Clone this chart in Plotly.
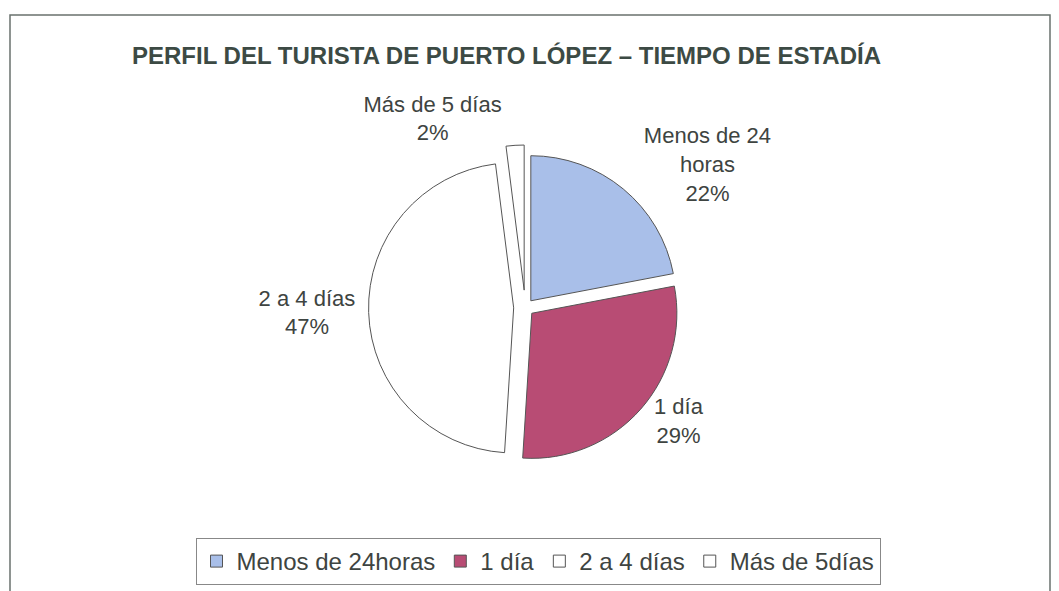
import plotly.graph_objects as go

categories = ["Menos de 24horas", "1 día", "2 a 4 días", "Más de 5días"]
slice_labels = ["Menos de 24<br>horas", "1 día", "2 a 4 días", "Más de 5 días"]
values = [22, 29, 47, 2]
colors = ["#a9bfe9", "#b84c74", "#ffffff", "#ffffff"]
pulls = [0.06, 0.06, 0.08, 0.12]

W, H = 1059, 591
FONT = "Liberation Sans, Arial, sans-serif"
TXT = "#3e4441"

fig = go.Figure(go.Pie(
    labels=categories,
    values=values,
    text=slice_labels,
    texttemplate="%{text}<br>%{percent:.0%}",
    textposition="outside",
    textfont=dict(family=FONT, size=22, color=TXT),
    marker=dict(colors=colors, line=dict(color="#555555", width=1)),
    pull=pulls,
    sort=False,
    direction="clockwise",
    rotation=0,
    domain=dict(x=[0.196, 0.796], y=[1 - 470/H, 1 - 145/H]),
    automargin=False,
))

fig.update_layout(
    width=W, height=H,
    paper_bgcolor="white",
    margin=dict(l=0, r=0, t=0, b=0),
    font=dict(family=FONT, color=TXT),
    showlegend=True,
    legend=dict(
        orientation="h",
        x=538/W, xanchor="center",
        y=1 - 585/H, yanchor="bottom",
        font=dict(size=24, color=TXT),
        bordercolor="#888888", borderwidth=1,
        bgcolor="white",
        itemwidth=30,
    ),
    annotations=[dict(
        text="<b>PERFIL DEL TURISTA DE PUERTO LÓPEZ – TIEMPO DE ESTADÍA</b>",
        x=506/W, y=1 - 55/H, xref="paper", yref="paper",
        xanchor="center", yanchor="middle", showarrow=False,
        font=dict(size=24, color="#3c4a44", family=FONT),
    )],
    shapes=[dict(
        type="rect", xref="paper", yref="paper",
        x0=10/W, x1=1050/W, y0=-0.02, y1=1 - 15/H,
        line=dict(color="#6a716e", width=1.5),
    )],
)

fig.write_html("out.html",
               config={"displayModeBar": False},
               post_script="document.body.style.margin='0';document.body.style.overflow='hidden';")
